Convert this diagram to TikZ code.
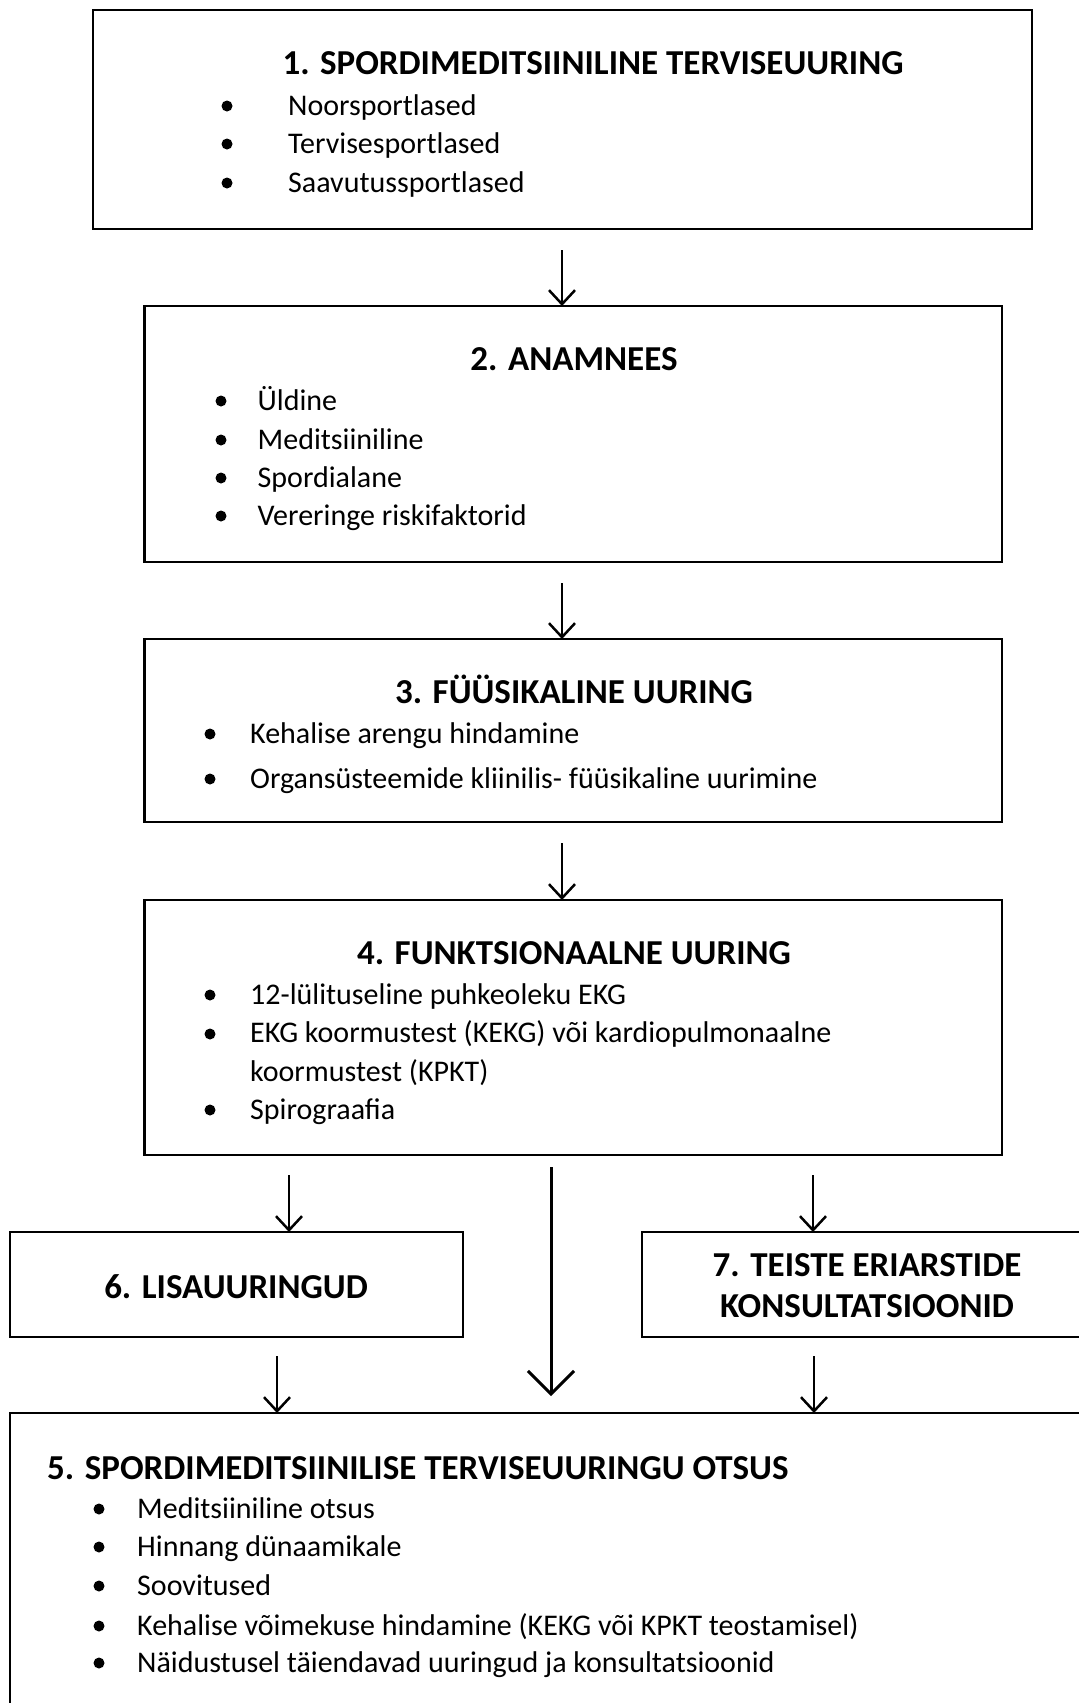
\documentclass[tikz,border=0pt]{standalone}
\usepackage{fontspec}
\setmainfont{Carlito}
\usetikzlibrary{arrows.meta}
\tikzset{%
  box/.style    = {draw, line width=2.5pt, inner sep=0pt, outer sep=0pt},%
  head/.style   = {font=\fontsize{35}{41}\selectfont\bfseries, inner sep=0pt, anchor=base, align=center},%
  entry/.style  = {font=\fontsize{30}{38.5}\selectfont, inner sep=0pt, anchor=base west, align=left},%
  dot/.style    = {circle, fill, inner sep=0pt, minimum size=11pt},%
  arr/.style    = {line width=2.5pt, -{Straight Barb[length=14pt,width=26pt]}},%
  bigarr/.style = {line width=3pt, -{Straight Barb[length=23pt,width=46pt]}}%
}

\begin{document}
\begin{tikzpicture}[x=1pt,y=-1pt]
	\useasboundingbox (0,0) rectangle (1079,1703);
	% boxes
	\node [box, minimum width=939pt, minimum height=219pt] (b1) at (562.5,119.5) {};
	\node [box, minimum width=857.5pt, minimum height=256pt] (b2) at (573.25,434) {};
	\node [box, minimum width=857.5pt, minimum height=183pt] (b3) at (573.25,730.5) {};
	\node [box, minimum width=857.5pt, minimum height=255pt] (b4) at (573.25,1027.5) {};
	\node [box, minimum width=453pt, minimum height=105pt] (b6) at (236.5,1284.5) {};
	\node [box, minimum width=458pt, minimum height=105pt] (b7) at (871,1284.5) {};
	\node [box, minimum width=1090pt, minimum height=307pt] (b5) at (555,1566.5) {};
	% 1
	\node [head] (h1) at (593,74) {1. SPORDIMEDITSIINILINE TERVISEUURING};
	\node [dot] (d11) at (227,106) {};
	\node [entry] (e11) at (288,115) {Noorsportlased};
	\node [dot] (d12) at (227,144) {};
	\node [entry] (e12) at (288,153) {Tervisesportlased};
	\node [dot] (d13) at (227,183) {};
	\node [entry] (e13) at (288,192) {Saavutussportlased};
	% 2
	\node [head] (h2) at (574,370) {2. ANAMNEES};
	\node [dot] (d21) at (221,401) {};
	\node [entry] (e21) at (257.5,410) {Üldine};
	\node [dot] (d22) at (221,440) {};
	\node [entry] (e22) at (257.5,449) {Meditsiiniline};
	\node [dot] (d23) at (221,478) {};
	\node [entry] (e23) at (257.5,487) {Spordialane};
	\node [dot] (d24) at (221,516) {};
	\node [entry] (e24) at (257.5,525) {Vereringe riskifaktorid};
	% 3
	\node [head] (h3) at (574,703) {3. FÜÜSIKALINE UURING};
	\node [dot] (d31) at (210,734) {};
	\node [entry] (e31) at (250,743) {Kehalise arengu hindamine};
	\node [dot] (d32) at (210,779) {};
	\node [entry] (e32) at (250,788) {Organsüsteemide kliinilis- füüsikaline uurimine};
	% 4
	\node [head] (h4) at (574,964) {4. FUNKTSIONAALNE UURING};
	\node [dot] (d41) at (210,995) {};
	\node [entry] (e41) at (250,1004) {12-lülituseline puhkeoleku EKG};
	\node [dot] (d42) at (210,1034) {};
	\node [entry] (e42) at (250,1081) {EKG koormustest (KEKG) või kardiopulmonaalne\\koormustest (KPKT)};
	\node [dot] (d43) at (210,1110) {};
	\node [entry] (e43) at (250,1119) {Spirograafia};
	% 6 and 7
	\node [head] (h6) at (236,1298) {6. LISAUURINGUD};
	\node [head] (h7) at (867,1317) {7. TEISTE ERIARSTIDE\\KONSULTATSIOONID};
	% 5
	\node [head, anchor=base west] (h5) at (47,1479) {5. SPORDIMEDITSIINILISE TERVISEUURINGU OTSUS};
	\node [dot] (d51) at (99,1509) {};
	\node [entry] (e51) at (137,1518) {Meditsiiniline otsus};
	\node [dot] (d52) at (99,1547) {};
	\node [entry] (e52) at (137,1556) {Hinnang dünaamikale};
	\node [dot] (d53) at (99,1586) {};
	\node [entry] (e53) at (137,1595) {Soovitused};
	\node [dot] (d54) at (99,1626) {};
	\node [entry] (e54) at (137,1635) {Kehalise võimekuse hindamine (KEKG või KPKT teostamisel)};
	\node [dot] (d55) at (99,1663) {};
	\node [entry] (e55) at (137,1672) {Näidustusel täiendavad uuringud ja konsultatsioonid};
	% arrows
	\coordinate (t12) at (562,250);
	\coordinate (t23) at (562,583);
	\coordinate (t34) at (562,843);
	\coordinate (t46) at (289,1175);
	\coordinate (t47) at (813,1175);
	\coordinate (t45) at (551,1167);
	\coordinate (t65) at (277,1356);
	\coordinate (t75) at (814,1356);
	\draw [arr] (t12) -- (t12 |- b2.north);
	\draw [arr] (t23) -- (t23 |- b3.north);
	\draw [arr] (t34) -- (t34 |- b4.north);
	\draw [arr] (t46) -- (t46 |- b6.north);
	\draw [arr] (t47) -- (t47 |- b7.north);
	\draw [bigarr] (t45) -- ([yshift=17pt]t45 |- b5.north);
	\draw [arr] (t65) -- (t65 |- b5.north);
	\draw [arr] (t75) -- (t75 |- b5.north);
\end{tikzpicture}
\end{document}
